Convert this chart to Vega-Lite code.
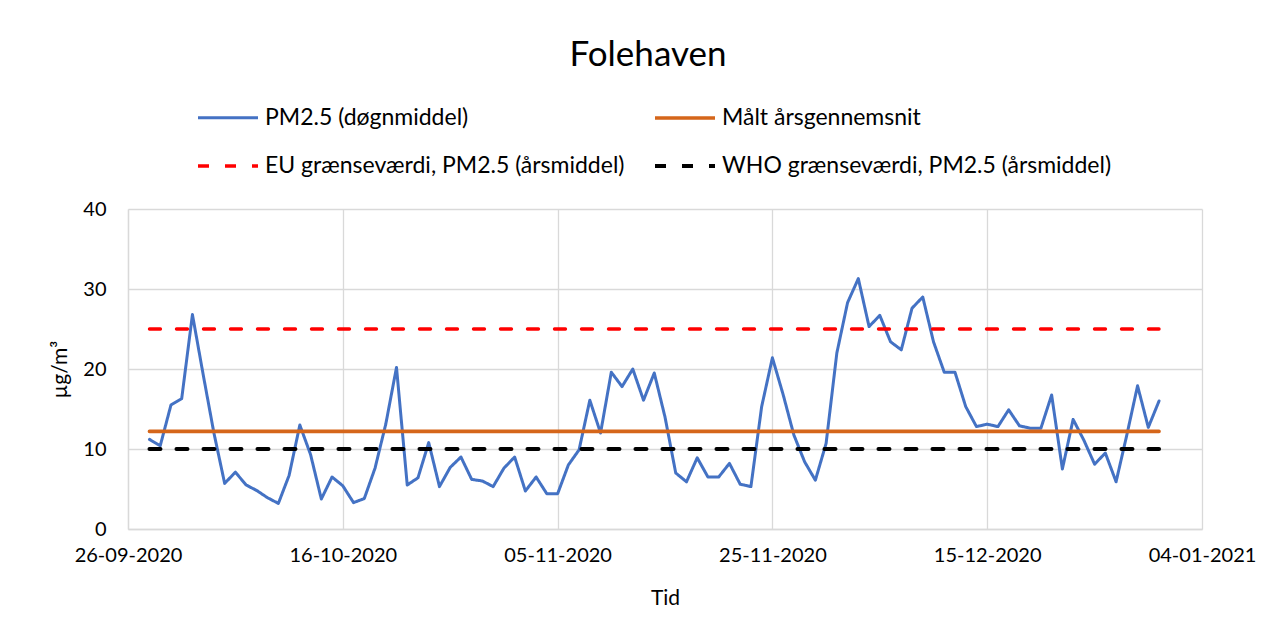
{
  "$schema": "https://vega.github.io/schema/vega-lite/v6.json",
  "width": 1074,
  "height": 320,
  "autosize": {"type": "none"},
  "padding": {"left": 128, "top": 209, "right": 74, "bottom": 112},
  "background": "white",
  "title": {"text": "Folehaven", "fontSize": 35, "font": "Lato", "fontWeight": "normal", "color": "#000000", "dx": -17, "anchor": "middle", "offset": 13},
  "data": {
    "values": [
      {"date": "2020-09-28", "series": "PM2.5 (døgnmiddel)", "value": 11.2},
      {"date": "2020-09-29", "series": "PM2.5 (døgnmiddel)", "value": 10.4},
      {"date": "2020-09-30", "series": "PM2.5 (døgnmiddel)", "value": 15.5},
      {"date": "2020-10-01", "series": "PM2.5 (døgnmiddel)", "value": 16.3},
      {"date": "2020-10-02", "series": "PM2.5 (døgnmiddel)", "value": 26.8},
      {"date": "2020-10-03", "series": "PM2.5 (døgnmiddel)", "value": 19.3},
      {"date": "2020-10-04", "series": "PM2.5 (døgnmiddel)", "value": 12.0},
      {"date": "2020-10-05", "series": "PM2.5 (døgnmiddel)", "value": 5.7},
      {"date": "2020-10-06", "series": "PM2.5 (døgnmiddel)", "value": 7.1},
      {"date": "2020-10-07", "series": "PM2.5 (døgnmiddel)", "value": 5.5},
      {"date": "2020-10-08", "series": "PM2.5 (døgnmiddel)", "value": 4.8},
      {"date": "2020-10-09", "series": "PM2.5 (døgnmiddel)", "value": 3.9},
      {"date": "2020-10-10", "series": "PM2.5 (døgnmiddel)", "value": 3.2},
      {"date": "2020-10-11", "series": "PM2.5 (døgnmiddel)", "value": 6.7},
      {"date": "2020-10-12", "series": "PM2.5 (døgnmiddel)", "value": 13.0},
      {"date": "2020-10-13", "series": "PM2.5 (døgnmiddel)", "value": 9.3},
      {"date": "2020-10-14", "series": "PM2.5 (døgnmiddel)", "value": 3.75},
      {"date": "2020-10-15", "series": "PM2.5 (døgnmiddel)", "value": 6.5},
      {"date": "2020-10-16", "series": "PM2.5 (døgnmiddel)", "value": 5.4},
      {"date": "2020-10-17", "series": "PM2.5 (døgnmiddel)", "value": 3.3},
      {"date": "2020-10-18", "series": "PM2.5 (døgnmiddel)", "value": 3.8},
      {"date": "2020-10-19", "series": "PM2.5 (døgnmiddel)", "value": 7.6},
      {"date": "2020-10-20", "series": "PM2.5 (døgnmiddel)", "value": 13.1},
      {"date": "2020-10-21", "series": "PM2.5 (døgnmiddel)", "value": 20.2},
      {"date": "2020-10-22", "series": "PM2.5 (døgnmiddel)", "value": 5.5},
      {"date": "2020-10-23", "series": "PM2.5 (døgnmiddel)", "value": 6.4},
      {"date": "2020-10-24", "series": "PM2.5 (døgnmiddel)", "value": 10.8},
      {"date": "2020-10-25", "series": "PM2.5 (døgnmiddel)", "value": 5.3},
      {"date": "2020-10-26", "series": "PM2.5 (døgnmiddel)", "value": 7.7},
      {"date": "2020-10-27", "series": "PM2.5 (døgnmiddel)", "value": 9.0},
      {"date": "2020-10-28", "series": "PM2.5 (døgnmiddel)", "value": 6.2},
      {"date": "2020-10-29", "series": "PM2.5 (døgnmiddel)", "value": 6.0},
      {"date": "2020-10-30", "series": "PM2.5 (døgnmiddel)", "value": 5.3},
      {"date": "2020-10-31", "series": "PM2.5 (døgnmiddel)", "value": 7.6},
      {"date": "2020-11-01", "series": "PM2.5 (døgnmiddel)", "value": 9.0},
      {"date": "2020-11-02", "series": "PM2.5 (døgnmiddel)", "value": 4.75},
      {"date": "2020-11-03", "series": "PM2.5 (døgnmiddel)", "value": 6.5},
      {"date": "2020-11-04", "series": "PM2.5 (døgnmiddel)", "value": 4.4},
      {"date": "2020-11-05", "series": "PM2.5 (døgnmiddel)", "value": 4.4},
      {"date": "2020-11-06", "series": "PM2.5 (døgnmiddel)", "value": 8.0},
      {"date": "2020-11-07", "series": "PM2.5 (døgnmiddel)", "value": 9.9},
      {"date": "2020-11-08", "series": "PM2.5 (døgnmiddel)", "value": 16.1},
      {"date": "2020-11-09", "series": "PM2.5 (døgnmiddel)", "value": 12.0},
      {"date": "2020-11-10", "series": "PM2.5 (døgnmiddel)", "value": 19.6},
      {"date": "2020-11-11", "series": "PM2.5 (døgnmiddel)", "value": 17.8},
      {"date": "2020-11-12", "series": "PM2.5 (døgnmiddel)", "value": 20.0},
      {"date": "2020-11-13", "series": "PM2.5 (døgnmiddel)", "value": 16.1},
      {"date": "2020-11-14", "series": "PM2.5 (døgnmiddel)", "value": 19.5},
      {"date": "2020-11-15", "series": "PM2.5 (døgnmiddel)", "value": 14.0},
      {"date": "2020-11-16", "series": "PM2.5 (døgnmiddel)", "value": 7.0},
      {"date": "2020-11-17", "series": "PM2.5 (døgnmiddel)", "value": 5.9},
      {"date": "2020-11-18", "series": "PM2.5 (døgnmiddel)", "value": 8.9},
      {"date": "2020-11-19", "series": "PM2.5 (døgnmiddel)", "value": 6.5},
      {"date": "2020-11-20", "series": "PM2.5 (døgnmiddel)", "value": 6.5},
      {"date": "2020-11-21", "series": "PM2.5 (døgnmiddel)", "value": 8.2},
      {"date": "2020-11-22", "series": "PM2.5 (døgnmiddel)", "value": 5.6},
      {"date": "2020-11-23", "series": "PM2.5 (døgnmiddel)", "value": 5.3},
      {"date": "2020-11-24", "series": "PM2.5 (døgnmiddel)", "value": 15.3},
      {"date": "2020-11-25", "series": "PM2.5 (døgnmiddel)", "value": 21.4},
      {"date": "2020-11-26", "series": "PM2.5 (døgnmiddel)", "value": 16.8},
      {"date": "2020-11-27", "series": "PM2.5 (døgnmiddel)", "value": 11.75},
      {"date": "2020-11-28", "series": "PM2.5 (døgnmiddel)", "value": 8.4},
      {"date": "2020-11-29", "series": "PM2.5 (døgnmiddel)", "value": 6.1},
      {"date": "2020-11-30", "series": "PM2.5 (døgnmiddel)", "value": 10.7},
      {"date": "2020-12-01", "series": "PM2.5 (døgnmiddel)", "value": 22.0},
      {"date": "2020-12-02", "series": "PM2.5 (døgnmiddel)", "value": 28.3},
      {"date": "2020-12-03", "series": "PM2.5 (døgnmiddel)", "value": 31.3},
      {"date": "2020-12-04", "series": "PM2.5 (døgnmiddel)", "value": 25.3},
      {"date": "2020-12-05", "series": "PM2.5 (døgnmiddel)", "value": 26.7},
      {"date": "2020-12-06", "series": "PM2.5 (døgnmiddel)", "value": 23.4},
      {"date": "2020-12-07", "series": "PM2.5 (døgnmiddel)", "value": 22.4},
      {"date": "2020-12-08", "series": "PM2.5 (døgnmiddel)", "value": 27.6},
      {"date": "2020-12-09", "series": "PM2.5 (døgnmiddel)", "value": 29.0},
      {"date": "2020-12-10", "series": "PM2.5 (døgnmiddel)", "value": 23.4},
      {"date": "2020-12-11", "series": "PM2.5 (døgnmiddel)", "value": 19.6},
      {"date": "2020-12-12", "series": "PM2.5 (døgnmiddel)", "value": 19.6},
      {"date": "2020-12-13", "series": "PM2.5 (døgnmiddel)", "value": 15.3},
      {"date": "2020-12-14", "series": "PM2.5 (døgnmiddel)", "value": 12.8},
      {"date": "2020-12-15", "series": "PM2.5 (døgnmiddel)", "value": 13.1},
      {"date": "2020-12-16", "series": "PM2.5 (døgnmiddel)", "value": 12.8},
      {"date": "2020-12-17", "series": "PM2.5 (døgnmiddel)", "value": 14.9},
      {"date": "2020-12-18", "series": "PM2.5 (døgnmiddel)", "value": 12.9},
      {"date": "2020-12-19", "series": "PM2.5 (døgnmiddel)", "value": 12.6},
      {"date": "2020-12-20", "series": "PM2.5 (døgnmiddel)", "value": 12.6},
      {"date": "2020-12-21", "series": "PM2.5 (døgnmiddel)", "value": 16.75},
      {"date": "2020-12-22", "series": "PM2.5 (døgnmiddel)", "value": 7.5},
      {"date": "2020-12-23", "series": "PM2.5 (døgnmiddel)", "value": 13.7},
      {"date": "2020-12-24", "series": "PM2.5 (døgnmiddel)", "value": 11.1},
      {"date": "2020-12-25", "series": "PM2.5 (døgnmiddel)", "value": 8.1},
      {"date": "2020-12-26", "series": "PM2.5 (døgnmiddel)", "value": 9.5},
      {"date": "2020-12-27", "series": "PM2.5 (døgnmiddel)", "value": 5.9},
      {"date": "2020-12-28", "series": "PM2.5 (døgnmiddel)", "value": 11.75},
      {"date": "2020-12-29", "series": "PM2.5 (døgnmiddel)", "value": 17.9},
      {"date": "2020-12-30", "series": "PM2.5 (døgnmiddel)", "value": 12.7},
      {"date": "2020-12-31", "series": "PM2.5 (døgnmiddel)", "value": 16.0},
      {"date": "2020-09-28", "series": "Målt årsgennemsnit", "value": 12.2},
      {"date": "2020-12-31", "series": "Målt årsgennemsnit", "value": 12.2},
      {"date": "2020-09-28", "series": "EU grænseværdi, PM2.5 (årsmiddel)", "value": 25},
      {"date": "2020-12-31", "series": "EU grænseværdi, PM2.5 (årsmiddel)", "value": 25},
      {"date": "2020-09-28", "series": "WHO grænseværdi, PM2.5 (årsmiddel)", "value": 10},
      {"date": "2020-12-31", "series": "WHO grænseværdi, PM2.5 (årsmiddel)", "value": 10}
    ]
  },
  "mark": {"type": "line", "strokeCap": "round", "strokeJoin": "round"},
  "encoding": {
    "x": {
      "field": "date",
      "type": "temporal",
      "title": "Tid",
      "scale": {
        "type": "utc",
        "domain": [
          {"year": 2020, "month": 9, "date": 26, "utc": true},
          {"year": 2021, "month": 1, "date": 4, "utc": true}
        ]
      },
      "axis": {
        "values": [
          {"year": 2020, "month": 9, "date": 26, "utc": true},
          {"year": 2020, "month": 10, "date": 16, "utc": true},
          {"year": 2020, "month": 11, "date": 5, "utc": true},
          {"year": 2020, "month": 11, "date": 25, "utc": true},
          {"year": 2020, "month": 12, "date": 15, "utc": true},
          {"year": 2021, "month": 1, "date": 4, "utc": true}
        ],
        "format": "%d-%m-%Y",
        "labelPadding": 16,
        "titlePadding": 22,
        "labelFlush": false,
        "labelOverlap": false
      }
    },
    "y": {
      "field": "value",
      "type": "quantitative",
      "title": "µg/m³",
      "scale": {"domain": [0, 40], "nice": false},
      "axis": {"values": [0, 10, 20, 30, 40], "labelPadding": 22, "titlePadding": 12}
    },
    "color": {
      "field": "series",
      "type": "nominal",
      "scale": {
        "domain": ["PM2.5 (døgnmiddel)", "EU grænseværdi, PM2.5 (årsmiddel)", "Målt årsgennemsnit", "WHO grænseværdi, PM2.5 (årsmiddel)"],
        "range": ["#4472C4", "#FF0000", "#D5661A", "#000000"]
      },
      "legend": {"title": null}
    },
    "strokeDash": {
      "field": "series",
      "type": "nominal",
      "scale": {
        "domain": ["PM2.5 (døgnmiddel)", "EU grænseværdi, PM2.5 (årsmiddel)", "Målt årsgennemsnit", "WHO grænseværdi, PM2.5 (årsmiddel)"],
        "range": [[1, 0], [11, 16], [1, 0], [11, 16]]
      },
      "legend": {"title": null}
    },
    "strokeWidth": {
      "field": "series",
      "type": "nominal",
      "scale": {
        "domain": ["PM2.5 (døgnmiddel)", "EU grænseværdi, PM2.5 (årsmiddel)", "Målt årsgennemsnit", "WHO grænseværdi, PM2.5 (årsmiddel)"],
        "range": [3, 4, 5, 4]
      },
      "legend": {"title": null}
    }
  },
  "config": {
    "font": "Lato",
    "view": {"stroke": null},
    "axis": {
      "grid": true,
      "gridColor": "#d9d9d9",
      "gridWidth": 1.3,
      "domainColor": "#d9d9d9",
      "domainWidth": 1.3,
      "ticks": false,
      "tickSize": 0,
      "labelFont": "Lato",
      "labelFontSize": 20,
      "labelColor": "#000000",
      "titleFont": "Lato",
      "titleFontSize": 21,
      "titleFontWeight": "normal",
      "titleColor": "#000000"
    },
    "legend": {
      "orient": "none",
      "legendX": 68,
      "legendY": -123,
      "columns": 2,
      "columnPadding": 22,
      "rowPadding": 4,
      "symbolType": "stroke",
      "symbolSize": 3600,
      "labelOffset": 5,
      "labelFont": "Lato",
      "labelFontSize": 23,
      "labelColor": "#000000",
      "labelLimit": 600
    }
  }
}
